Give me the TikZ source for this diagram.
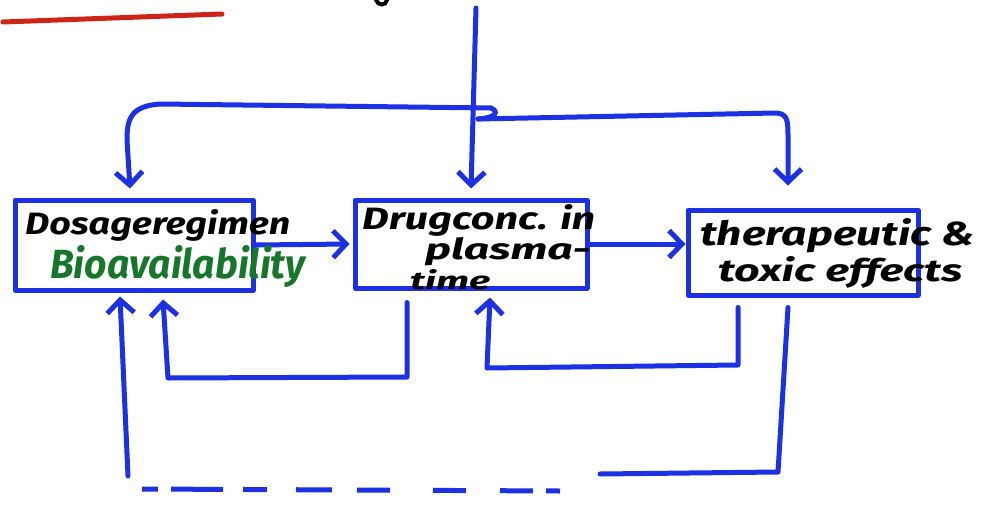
\documentclass[tikz,border=0pt]{standalone}
\usepackage{fontspec}
\usepackage{graphicx}
\setmainfont{Fira Sans}
\usetikzlibrary{arrows.meta}
\definecolor{pen}{RGB}{28,48,228}
\definecolor{greenpen}{RGB}{22,118,42}
\definecolor{redpen}{RGB}{205,35,25}
\begin{document}
\begin{tikzpicture}[x=1pt,y=-1pt,
  ink/.style={draw=pen,line width=5pt,line cap=round,line join=round},
  arr/.style={ink,-{Straight Barb[length=13pt,width=27pt]}},
  box/.style={ink,rectangle,inner sep=0pt},
  lbl/.style={anchor=base west,inner sep=0pt,font=\itshape\bfseries},
]
\useasboundingbox (0,0) rectangle (985,506);

% heading underline and a stroke of the heading cut at the top edge
\draw[redpen,line width=5pt,line cap=round] (3,22) -- (222,14);
\draw[black,line width=4pt,line cap=round] (376,0) .. controls (378,6) and (386,6) .. (387,0);

% the three stages
\node[box,minimum width=238pt,minimum height=90pt] (dose) at (134,245) {};
\node[box,minimum width=232pt,minimum height=88pt] (drug) at (471,244) {};
\node[box,minimum width=230pt,minimum height=85pt] (effect) at (803,252.5) {};

% input from above and its branches
\coordinate (src) at (476,8);
\coordinate (split) at (491,108);
\coordinate (branch) at (478,119);
\draw[arr] (src) -- ([yshift=9pt]drug.north);
\draw[arr] (split) -- (160,104) .. controls (130,106) and (127,120) .. (127,140)
  -- ([xshift=-4pt,yshift=9pt]dose.north);
\draw[ink] (split) .. controls (500,112) and (495,118) .. (branch);
\draw[arr] (branch) -- (775,113) .. controls (787,113) and (788,120) .. (788,135)
  -- ([xshift=-15pt,yshift=22pt]effect.north);

% forward arrows
\draw[arr] (dose.east) -- ([xshift=-3pt]drug.west);
\draw[arr] (drug.east) -- (drug.east -| effect.west);

% feedback loops
\draw[arr] ([xshift=-64pt,yshift=-12pt]drug.south) -- (407,377) -- (168,378)
  -- ([xshift=29pt,yshift=-7pt]dose.south);
\draw[arr] ([xshift=-65pt,yshift=-10pt]effect.south) -- (738,365) -- (487,368)
  -- ([xshift=19pt,yshift=-7pt]drug.south);

% outer loop, partly dashed
\coordinate (dashL) at (142,489);
\coordinate (dashR) at (560,491);
\draw[ink] ([xshift=-15pt,yshift=-10pt]effect.south) -- (778,472) -- (600,474);
\draw[ink,line cap=butt,dash pattern=on 16pt off 13pt on 52pt off 20pt on 24pt off 29pt on 36pt off 25pt on 33pt off 43pt on 33pt off 34pt on 33pt off 13pt on 14pt]
  (dashL) -- (dashR);
\draw[arr] (128,476) -- ([xshift=-14pt,yshift=-4pt]dose.south);

% labels
\node[lbl] (tdose) at (25,234) {\resizebox{265pt}{25pt}{Dosageregimen}};
\node[lbl,text=greenpen] (tbio) at (50,278) {\resizebox{255pt}{33pt}{Bioavailability}};
\node[lbl] (tdrug1) at (362,229) {\resizebox{233pt}{25pt}{Drugconc. in}};
\node[lbl] (tdrug2) at (425,259) {\resizebox{165pt}{22pt}{plasma-}};
\node[lbl] (tdrug3) at (410,289) {\resizebox{80pt}{20pt}{time}};
\node[lbl] (teff1) at (700,245) {\resizebox{275pt}{27pt}{therapeutic \&}};
\node[lbl] (teff2) at (718,281) {\resizebox{244pt}{25pt}{toxic effects}};
\end{tikzpicture}
\end{document}
